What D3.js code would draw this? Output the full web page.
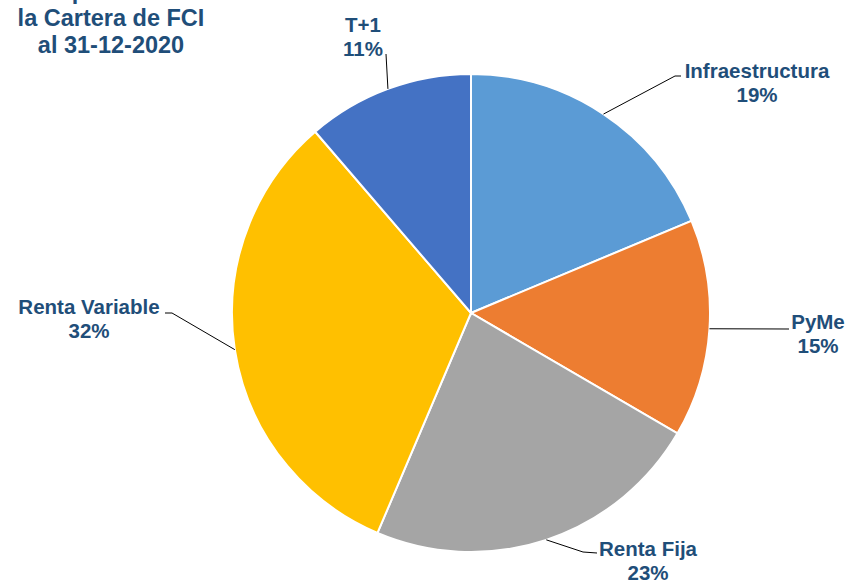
<!DOCTYPE html>
<meta charset="utf-8">
<style>
body { margin: 0; background: #fff; }
svg { display: block; font-family: "Liberation Sans", Arial, sans-serif; font-weight: bold; }
.lbl { fill: #1F4E79; font-size: 20.5px; }
.title { fill: #1F4E79; font-size: 23.5px; }
.leader { stroke: #000; stroke-width: 1; fill: none; }
</style>
<svg width="852" height="583"></svg>
<script src="https://d3js.org/d3.v7.min.js"></script>
<script>

var categories = ["Infraestructura", "PyMe", "Renta Fija", "Renta Variable", "T+1"];
var values = [18.7, 14.7, 23.0, 32.3, 11.3];
var shownPct = ["19%", "15%", "23%", "32%", "11%"];
var colors = ["#5B9BD5", "#ED7D31", "#A5A5A5", "#FFC000", "#4472C4"];
var titleLines = ["Composición de", "la Cartera de FCI", "al 31-12-2020"];

// manual label placement (like the original chart): text centre, first baseline, leader elbow
var labelPos = [
  {x: 757, y: 78, elbow: [[675, 76], [681, 76]]},
  {x: 818, y: 329, elbow: [[789, 329]]},
  {x: 648, y: 556, elbow: [[583, 552], [597, 553]]},
  {x: 89, y: 314, elbow: [[172, 313], [165, 313]]},
  {x: 363, y: 32, elbow: [[386, 54]]}
];

var svg = d3.select("svg"),
    cx = 471, cy = 313, r = 239;

var pie = d3.pie().sort(null).value(function(d) { return d; });
var arc = d3.arc().innerRadius(0).outerRadius(r);
var arcs = pie(values);

var g = svg.append("g").attr("transform", "translate(" + cx + "," + cy + ")");

g.selectAll("path.slice")
  .data(arcs)
  .enter()
  .append("path")
  .attr("class", "slice")
  .attr("d", arc)
  .attr("fill", function(d, i) { return colors[i]; })
  .attr("stroke", "#fff")
  .attr("stroke-width", 2);

// leader lines start at the outer edge, middle of each slice
arcs.forEach(function(d, i) {
  var a = (d.startAngle + d.endAngle) / 2;
  var pts = [[cx + r * Math.sin(a), cy - r * Math.cos(a)]].concat(labelPos[i].elbow);
  svg.append("path")
    .attr("class", "leader")
    .attr("d", d3.line()(pts));

  var t = svg.append("text")
    .attr("class", "lbl")
    .attr("text-anchor", "middle")
    .attr("x", labelPos[i].x)
    .attr("y", labelPos[i].y);
  t.append("tspan").attr("x", labelPos[i].x).text(categories[i]);
  t.append("tspan").attr("x", labelPos[i].x).attr("dy", 24).text(shownPct[i]);
});

svg.selectAll("text.title")
  .data(titleLines)
  .enter()
  .append("text")
  .attr("class", "title")
  .attr("text-anchor", "middle")
  .attr("x", 111)
  .attr("y", function(d, i) { return -1 + i * 27; })
  .text(function(d) { return d; });

</script>
